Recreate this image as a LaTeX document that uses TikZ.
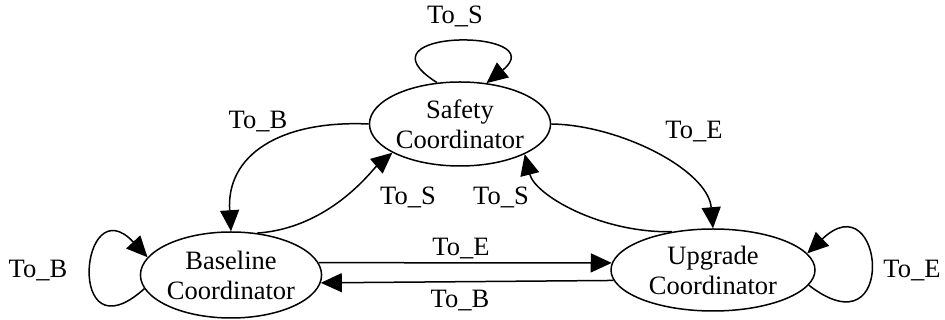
\documentclass[tikz,border=0pt]{standalone}
\usepackage{fontspec}
\setmainfont{Liberation Serif}
\usetikzlibrary{arrows.meta,shapes.geometric}
\tikzset{
  state/.style={ellipse, draw, line width=1.5pt, inner sep=0pt, align=center,
    font=\fontsize{26.5}{30}\selectfont},
  lbl/.style={inner sep=0pt, font=\fontsize{26.5}{30}\selectfont},
  arr/.style={line width=1.5pt, -{Triangle[length=21pt,width=19pt]}}
}
\begin{document}
\begin{tikzpicture}[x=1pt,y=1pt]
\useasboundingbox (0,0) rectangle (945,320);

% states
\node[state, minimum width=172pt, minimum height=84pt] (S) at (460,196) {Safety\\Coordinator};
\node[state, minimum width=168pt, minimum height=86pt] (B) at (231,45) {Baseline\\Coordinator};
\node[state, minimum width=204pt, minimum height=82pt] (U) at (713,50) {Upgrade\\Coordinator};

% transitions between states
\draw[arr] (S.west) .. controls (280,200) and (226,165) .. (B.north);
\draw[arr] (B.58) .. controls (330,92) and (372,150) .. (S.203);
\draw[arr] (S.east) .. controls (620,195) and (708,150) .. (U.north);
\draw[arr] (U.137) .. controls (600,87) and (535,125) .. (S.335);
\draw[arr] (B.8.46) -- (U.176);
\draw[arr] (U.186.4) -- (B.355.9);

% self loops
\draw[arr] (S.119) .. controls (350,292) and (555,292) .. (S.57);
\draw[arr] (B.189) .. controls (65,-40) and (80,135) .. (B.168);
\draw[arr] (U.351) .. controls (899,-35) and (884,140) .. (U.10);

% transition labels
\node[lbl] (lSS) at (455,304) {To\_S};
\node[lbl] (lSB) at (258,198) {To\_B};
\node[lbl] (lBS) at (408,123) {To\_S};
\node[lbl] (lUS) at (501,123) {To\_S};
\node[lbl] (lSU) at (694,188) {To\_E};
\node[lbl] (lBU) at (461,71) {To\_E};
\node[lbl] (lUB) at (460,19) {To\_B};
\node[lbl] (lBB) at (38,49) {To\_B};
\node[lbl] (lUU) at (912,49) {To\_E};
\end{tikzpicture}
\end{document}
